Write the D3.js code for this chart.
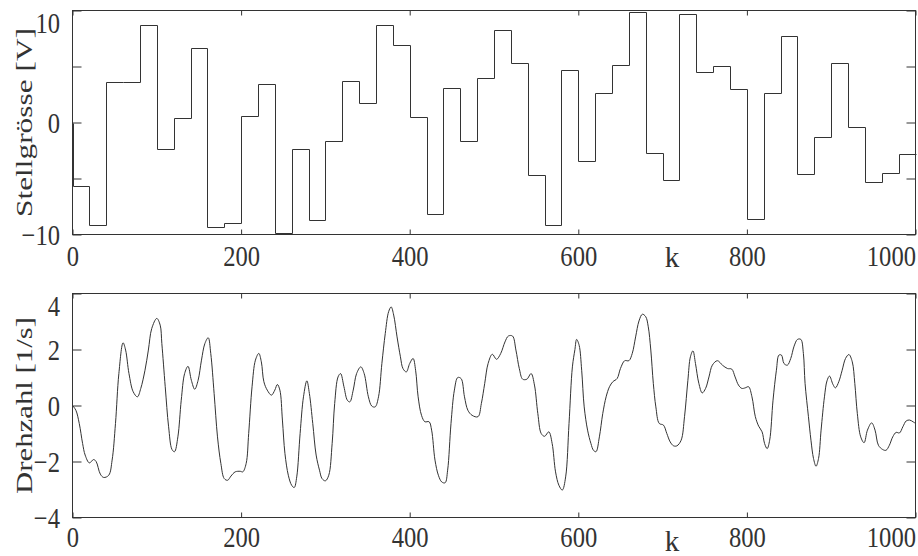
<!DOCTYPE html>
<html>
<head>
<meta charset="utf-8">
<script src="https://cdn.jsdelivr.net/npm/d3@7"></script>
<style>
  body { margin: 0; background: #fff; }
  svg text { font-family: "Liberation Serif", serif; fill: #333; }
</style>
</head>
<body>
<div id="chart"></div>
<script>
  // control signal: start sample of each hold interval and its value [V]
  var stepK = [0, 20, 40, 60, 80, 100, 120, 140, 160, 180, 200, 220, 240, 260, 280, 300, 320, 340, 360, 380,
    400, 420, 440, 460, 480, 500, 520, 540, 560, 580, 600, 620, 640, 660, 680, 700, 720, 740, 760, 780,
    800, 820, 840, 860, 880, 900, 920, 940, 960, 980];
  var stepU = [-5.67, -9.12, 3.59, 3.65, 8.71, -2.33, 0.40, 6.63, -9.36, -8.97, 0.55, 3.41, -9.83, -2.33, -8.73, -1.68, 3.74, 1.78, 8.68, 6.95,
    0.52, -8.2, 3.11, -1.68, 4.0, 8.23, 5.28, -4.71, -9.12, 4.72, -3.44, 2.61, 5.17, 9.84, -2.69, -5.1, 9.66, 4.48, 5.08, 3.03,
    -8.58, 2.64, 7.76, -4.6, -1.26, 5.35, -0.43, -5.28, -4.54, -2.81];

  // speed response [1/s]
  var speedK = [0, 4, 8, 12, 15, 20, 25, 28, 33, 37, 43, 47, 51, 55, 60, 63, 67, 72, 77, 81, 86, 90, 94, 100, 104, 106, 110, 114, 118, 121,
    125, 129, 133, 137, 141, 145, 149, 153, 157, 161, 164, 168, 172, 176, 180, 184, 188, 193, 199, 202, 206, 209, 213, 217, 221, 224, 227,
    231, 236, 240, 243, 246, 249, 252, 256, 260, 263, 266, 270, 274, 278, 281, 285, 289, 293, 296, 300, 304, 308, 311, 315, 318, 322, 326,
    329, 333, 337, 342, 346, 351, 355, 359, 363, 367, 371, 375, 378, 381, 385, 389, 392, 396, 400, 404, 407, 410, 414, 418, 423, 426, 430,
    434, 438, 442, 445, 449, 453, 457, 461, 465, 469, 474, 481, 485, 489, 493, 498, 503, 508, 513, 517, 522, 526, 530, 534, 539, 544, 548,
    552, 556, 560, 565, 569, 573, 577, 581, 585, 589, 593, 596, 598, 601, 604, 607, 611, 615, 618, 621, 625, 629, 633, 637, 641, 646, 650,
    655, 660, 664, 668, 672, 676, 680, 683, 686, 689, 692, 696, 701, 705, 709, 713, 717, 722, 726, 730, 733, 736, 739, 743, 747, 751, 755,
    759, 765, 771, 777, 782, 786, 790, 794, 798, 802, 806, 810, 814, 818, 821, 824, 827, 831, 835, 838, 841, 844, 848, 852, 856, 860, 864,
    867, 869, 873, 876, 879, 882, 885, 888, 892, 895, 898, 902, 905, 909, 913, 917, 921, 925, 928, 931, 935, 939, 943, 948, 952, 956, 961,
    965, 969, 973, 977, 981, 985, 989, 993, 997, 1000];
  var speed = [0, -0.17, -0.64, -1.36, -1.77, -2.05, -1.93, -2.0, -2.45, -2.57, -2.49, -1.95, -0.64, 1.14, 2.24, 1.98, 1.14, 0.49, 0.31, 0.61, 1.26, 1.98, 2.75, 3.11, 2.87, 2.21, 0.67, -0.76, -1.57, -1.65,
    -1.12, 0.19, 1.14, 1.40, 0.90, 0.58, 0.90, 1.62, 2.21, 2.42, 1.86, 0.43, -1.12, -2.07, -2.61, -2.67, -2.52, -2.37, -2.35, -2.37, -2.07, -1.0, 0.67, 1.62, 1.86, 1.56, 0.85,
    0.55, 0.37, 0.55, 0.75, 0.55, -0.52, -1.71, -2.49, -2.85, -2.93, -2.55, -1.0, 0.31, 0.88, 0.43, -0.64, -1.77, -2.31, -2.61, -2.69, -2.49, -1.36, 0.07, 1.02, 1.14, 0.67, 0.19,
    0.13, 0.55, 1.14, 1.38, 1.14, 0.31, -0.02, -0.05, 0.31, 1.5, 2.57, 3.35, 3.52, 3.23, 2.45, 1.74, 1.32, 1.2, 1.5, 1.68, 1.26, 0.31, -0.35, -0.58, -0.58, -0.88, -1.95,
    -2.49, -2.73, -2.76, -2.31, -0.64, 0.55, 1.0, 0.96, 0.31, -0.17, -0.35, -0.4, 0.07, 0.79, 1.5, 1.83, 1.65, 1.86, 2.27, 2.48, 2.48, 1.98, 1.32, 0.94, 0.94, 1.14, 0.73,
    -0.29, -1.0, -1.1, -0.94, -1.36, -2.37, -2.85, -3.02, -2.55, -0.64, 1.38, 2.0, 2.36, 2.15, 1.26, -0.05, -0.88, -1.36, -1.6, -1.65, -1.12, -0.29, 0.31, 0.67, 0.85, 0.96, 1.32,
    1.6, 1.6, 1.86, 2.45, 3.02, 3.26, 3.17, 2.81, 1.98, 0.79, -0.05, -0.64, -0.7, -1.0, -1.3, -1.44, -1.44, -1.24, -0.4, 0.9, 1.74, 1.95, 1.5, 0.79, 0.45, 0.61, 1.02,
    1.44, 1.6, 1.44, 1.32, 1.3, 1.02, 0.73, 0.61, 0.63, 0.67, 0.31, -0.4, -0.74, -0.94, -1.36, -1.54, -1.24, 0.19, 1.26, 1.8, 1.8, 1.5, 1.44, 1.68, 2.12, 2.36, 2.36,
    1.86, 0.79, -0.4, -1.24, -1.89, -2.17, -1.89, -0.88, 0.31, 0.88, 1.05, 0.76, 0.63, 0.85, 1.26, 1.68, 1.82, 1.56, 0.79, -0.29, -1.12, -1.33, -0.88, -0.62, -0.88, -1.42, -1.57,
    -1.6, -1.42, -1.12, -0.96, -0.98, -0.76, -0.55, -0.52, -0.58, -0.64];

  var xTicks = [0, 200, 400, 600, 800, 1000];
  var uTicks = [-10, -5, 0, 5, 10];
  var uTickLabels = ["\u221210", "", "0", "", "10"];
  var nTicks = [-4, -2, 0, 2, 4];
  var nTickLabels = ["\u22124", "\u22122", "0", "2", "4"];

  var svgWidth = 918;
  var svgHeight = 556;

  var svg = d3.select("#chart")
    .append("svg")
    .attr("width", svgWidth)
    .attr("height", svgHeight);

  var left = 72.5, right = 915.5;
  var xScale = d3.scaleLinear().domain([0, 1000]).range([left, right]);

  var sx = 0.82; // narrow tick digits

  function panel(y0, y1, yDomain, yTicks, yLabels, title, titleLen, xLabelOff, kBase) {
    var yScale = d3.scaleLinear().domain(yDomain).range([y1, y0]);
    var g = svg.append("g");

    // bottom axis with labels, inside ticks
    var bx = g.append("g")
      .attr("transform", `translate(0, ${y1})`)
      .call(d3.axisBottom(xScale).tickValues(xTicks).tickSize(-5).tickFormat(d3.format("d")));
    bx.selectAll("text")
      .attr("y", xLabelOff)
      .attr("dy", null)
      .attr("font-size", 30)
      .attr("transform", `scale(${sx},1)`)
      .attr("text-anchor", (d, i) => i === xTicks.length - 1 ? "end" : "middle");

    g.append("g")
      .attr("transform", `translate(0, ${y0})`)
      .call(d3.axisTop(xScale).tickValues(xTicks).tickSize(-5).tickFormat(""));

    var ly = g.append("g")
      .attr("transform", `translate(${left}, 0)`)
      .call(d3.axisLeft(yScale).tickValues(yTicks).tickSize(-9).tickFormat((d, i) => yLabels[i]));
    ly.selectAll("text")
      .attr("x", -12.5 / sx)
      .attr("dy", null)
      .attr("y", (d, i) => i === yTicks.length - 1 ? 21.5 : 10)
      .attr("font-size", 30)
      .attr("transform", `scale(${sx},1)`);

    g.append("g")
      .attr("transform", `translate(${right}, 0)`)
      .call(d3.axisRight(yScale).tickValues(yTicks).tickSize(-9).tickFormat(""));

    g.selectAll(".domain").remove();
    g.selectAll(".tick line").attr("stroke", "#333");

    g.append("rect")
      .attr("x", left)
      .attr("y", y0)
      .attr("width", right - left)
      .attr("height", y1 - y0)
      .attr("fill", "none")
      .attr("stroke", "#333");

    g.append("text")
      .attr("transform", `translate(31.5, ${(y0 + y1) / 2}) rotate(-90)`)
      .attr("text-anchor", "middle")
      .attr("font-size", 24)
      .attr("textLength", titleLen)
      .attr("lengthAdjust", "spacingAndGlyphs")
      .text(title);

    g.append("text")
      .attr("x", 672)
      .attr("y", kBase)
      .attr("text-anchor", "middle")
      .attr("font-size", 29)
      .text("k");

    return yScale;
  }

  var uScale = panel(10.5, 234.5, [-10, 10], uTicks, uTickLabels, "Stellgr\u00f6sse [V]", 189, 31.5, 267);
  var nScale = panel(293.5, 517.5, [-4, 4], nTicks, nTickLabels, "Drehzahl [1/s]", 177, 30, 551);

  // stair line for the control signal
  var stairs = [{ k: 0, u: 0 }];
  stepK.forEach(function(k, i) { stairs.push({ k: k, u: stepU[i] }); });
  stairs.push({ k: 1000, u: stepU[stepU.length - 1] });

  svg.append("path")
    .datum(stairs)
    .attr("fill", "none")
    .attr("stroke", "#333")
    .attr("stroke-width", 1)
    .attr("d", d3.line().curve(d3.curveStepAfter)
      .x(d => Math.round(xScale(d.k)) + 0.5)
      .y(d => Math.round(uScale(d.u)) + 0.5));

  // speed curve
  var speedData = speedK.map((k, i) => ({ k: k, n: speed[i] }));
  svg.append("path")
    .datum(speedData)
    .attr("fill", "none")
    .attr("stroke", "#333")
    .attr("stroke-width", 1)
    .attr("d", d3.line().curve(d3.curveCatmullRom.alpha(0.5))
      .x(d => xScale(d.k))
      .y(d => nScale(d.n)));
</script>
</body>
</html>
